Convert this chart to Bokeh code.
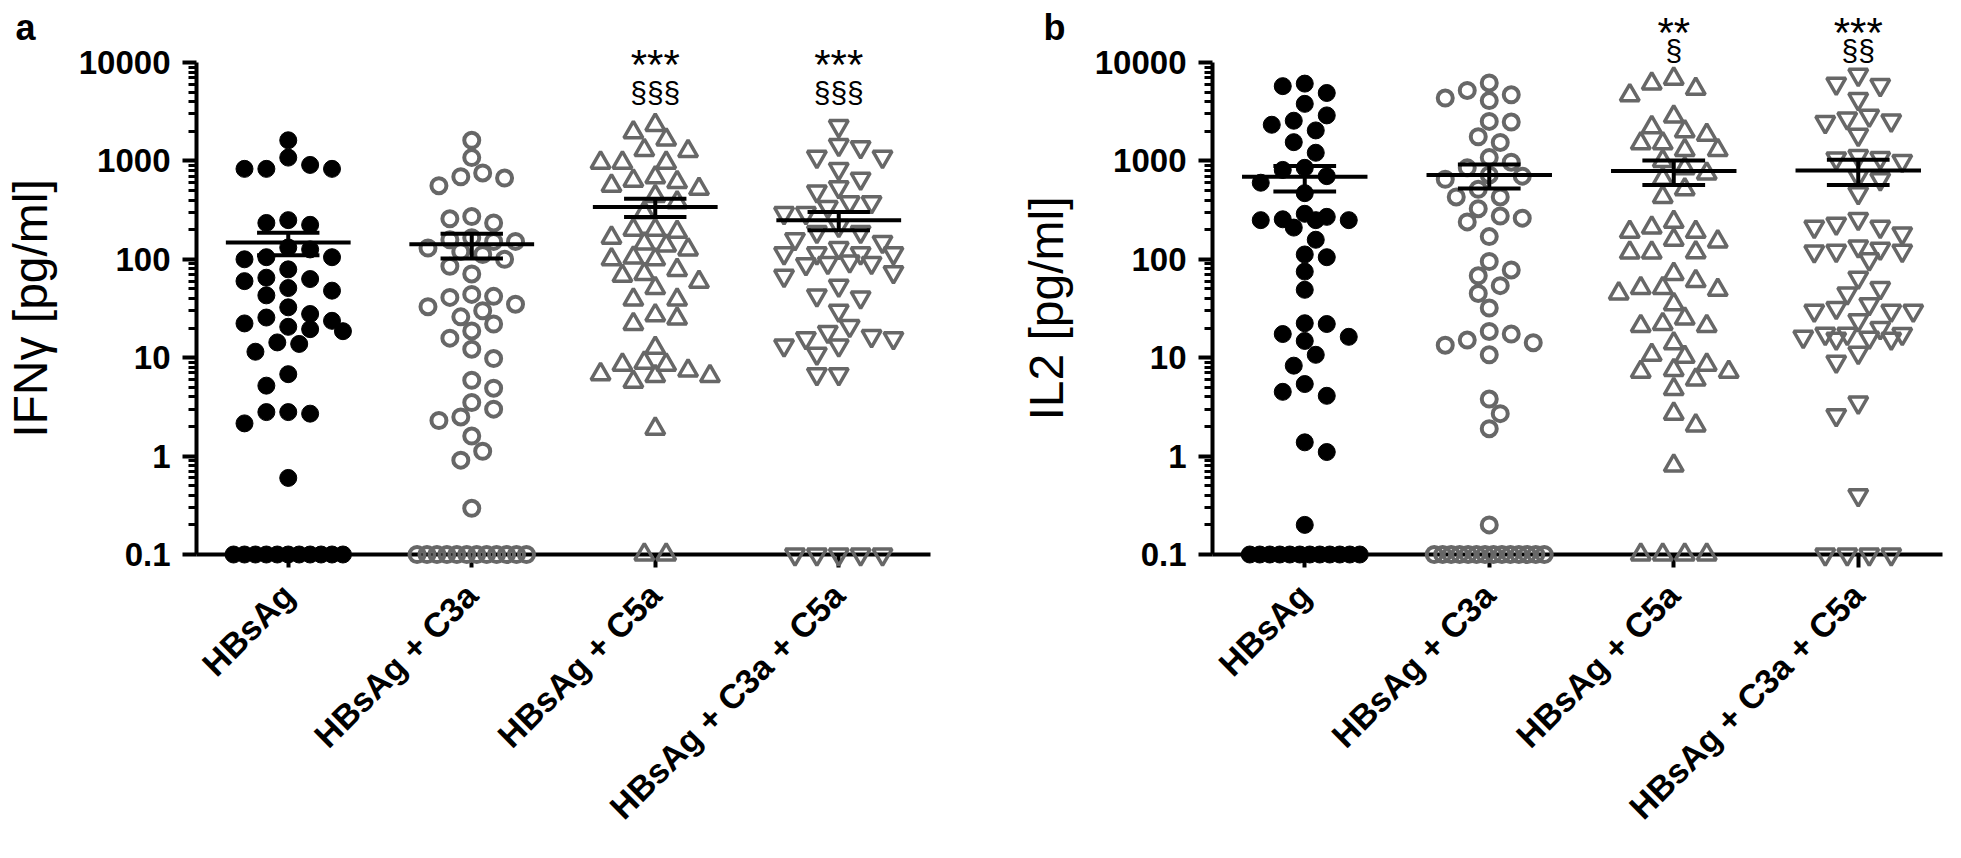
import math
import numpy as np
from bokeh.plotting import figure
from bokeh.layouts import row
from bokeh.models import Range1d, FixedTicker, CustomJSTickFormatter
from bokeh.core.properties import value
from bokeh.embed import file_html
from bokeh.resources import INLINE

# ---------------- data ----------------
categories = ["HBsAg", "HBsAg + C3a", "HBsAg + C5a", "HBsAg + C3a + C5a"]
ytick_values = [0.1, 1, 10, 100, 1000, 10000]
ytick_labels = ["0.1", "1", "10", "100", "1000", "10000"]

ifng_hbsag = [1620, 1080, 830, 830, 830, 910, 234, 250, 224, 126, 132, 105, 100, 105,
              79, 63, 65, 60, 51, 48, 43, 32.5, 27.8, 25.6, 23.7, 22.3, 20.6, 19.5, 18.6,
              14.3, 13.8, 11.5, 6.8, 5.2, 2.8, 2.7, 2.8, 2.15, 0.6,
              0.1, 0.1, 0.1, 0.1, 0.1, 0.1, 0.1, 0.1, 0.1, 0.1, 0.1]
ifng_c3a = [1620, 1080, 690, 755, 670, 560, 258, 234, 272, 166, 158, 152, 152, 130, 112,
            100, 120, 85, 71, 44, 41, 42, 33, 35, 26, 30, 22, 18.7, 15.8, 12.2, 9.8, 5.9,
            4.9, 3.5, 3.0, 2.5, 2.3, 1.6, 1.12, 0.91, 0.295,
            0.1, 0.1, 0.1, 0.1, 0.1, 0.1, 0.1, 0.1, 0.1, 0.1, 0.1, 0.1]
ifng_c5a = [2320, 1950, 1650, 1260, 1290, 960, 960, 960, 630, 560, 520, 610, 680, 440,
            380, 300, 200, 166, 190, 200, 145, 138, 126, 100, 100, 104, 78, 68, 59, 51,
            71, 39, 39, 27, 22, 25, 12.6, 8.5, 6.5, 7.4, 5.7, 8.5, 6.5, 8.9, 6.8, 1.9,
            0.1, 0.1]
ifng_c3a_c5a = [2260, 1380, 1100, 1450, 1100, 830, 660, 540, 490, 380, 340, 380, 295, 295,
                218, 190, 190, 160, 150, 130, 115, 115, 115, 115, 95, 92, 92, 89, 74, 68,
                54, 43, 41, 30, 21, 18.3, 16.6, 15.8, 15.8, 13.3, 13.3, 11.0, 6.8, 6.8,
                0.1, 0.1, 0.1, 0.1, 0.1]

il2_hbsag = [6100, 5750, 4900, 3800, 2900, 2560, 2330, 2040, 1550, 1210, 850, 810, 700,
             600, 470, 290, 270, 255, 250, 250, 250, 210, 158, 112, 105, 75, 49, 22.4, 22,
             17.4, 16.3, 14.8, 10.7, 8.3, 5.4, 4.5, 4.1, 1.38, 1.1, 0.2,
             0.1, 0.1, 0.1, 0.1, 0.1, 0.1, 0.1, 0.1, 0.1, 0.1, 0.1, 0.1]
il2_c3a = [6200, 5200, 4700, 4350, 4100, 2520, 2480, 1760, 1540, 1080, 970, 850, 720, 700,
           650, 515, 430, 430, 327, 275, 262, 240, 170, 95, 78, 68, 54, 45, 32, 18.5, 17.4,
           15.1, 14.2, 13.4, 10.7, 3.8, 2.7, 1.9, 0.2,
           0.1, 0.1, 0.1, 0.1, 0.1, 0.1, 0.1, 0.1, 0.1, 0.1, 0.1, 0.1, 0.1, 0.1]
il2_c5a = [6850, 6100, 5400, 4650, 2820, 2200, 2000, 1840, 1510, 1510, 1290, 1290, 1000,
           840, 745, 660, 515, 430, 240, 210, 190, 190, 158, 152, 118, 117, 117, 71, 60,
           51, 51, 49, 45, 35, 25, 22, 21, 21, 14, 10.7, 10.2, 8.5, 7.5, 7.2, 7.2, 6.0,
           4.8, 2.7, 2.05, 0.8,
           0.1, 0.1, 0.1, 0.1]
il2_c3a_c5a = [7500, 6100, 5900, 4250, 2880, 2700, 2570, 2480, 1840, 1120, 1070, 1060,
               1000, 700, 650, 470, 257, 230, 214, 214, 183, 135, 128, 122, 122, 120, 100,
               65, 51, 45, 35, 32, 30, 30, 30, 24, 20, 17.5, 17.5, 17.4, 16.3, 16, 15.6,
               15.6, 11.2, 9.1, 3.5, 2.6, 0.4,
               0.1, 0.1, 0.1, 0.1]

ifng_mean = [148, 142, 341, 250]
ifng_sem = [38, 40, 72, 53]
il2_mean = [690, 720, 790, 800]
il2_sem = [200, 197, 220, 230]

ifng_stars = ["", "", "***", "***"]
ifng_sect = ["", "", "§§§", "§§§"]
il2_stars = ["", "", "**", "***"]
il2_sect = ["", "", "§", "§§"]

# ---------------- style / layout ----------------
FONT = "Liberation Sans"
GRAY = "#676767"
PX_PER_CAT = 184.5
PX_PER_DEC = 98.4
FRAME_H = 492
TOP = 62
BOTTOM = 288


def swarm_offsets(values, floor=0.1, half_step=11.0, dmin=17.0, max_half=55.0, floor_half=55.0):
    v = np.asarray(values, dtype=float)
    y = np.log10(np.maximum(v, floor)) * PX_PER_DEC
    off = np.zeros(len(v))
    floor_idx = [i for i in range(len(v)) if v[i] <= floor]
    n0 = len(floor_idx)
    if n0 > 1:
        sp = min(2 * half_step, 2 * floor_half / (n0 - 1))
        for k, i in enumerate(floor_idx):
            off[i] = (k - (n0 - 1) / 2) * sp
    placed = list(floor_idx)
    rest = sorted([i for i in range(len(v)) if v[i] > floor], key=lambda i: -v[i])
    for n, i in enumerate(rest):
        side = 1 if n % 2 == 0 else -1
        cands = [0.0]
        k = 1
        while k * half_step <= max_half + 1e-9:
            cands += [side * k * half_step, -side * k * half_step]
            k += 1
        chosen, best, best_d = None, 0.0, -1.0
        for c in cands:
            d = min([math.hypot(c - off[j], y[i] - y[j]) for j in placed] or [1e9])
            if d >= dmin:
                chosen = c
                break
            if d > best_d:
                best_d, best = d, c
        off[i] = chosen if chosen is not None else best
        placed.append(i)
    return off / PX_PER_CAT


def y_from_top(px):
    # data value that lies px pixels above the frame top (negative = below)
    return 10 ** (4 + px / PX_PER_DEC)


def add_text(p, xs, dy_px, texts, size, bold=False, align="center"):
    p.text(x=list(xs), y=[y_from_top(dy_px)] * len(xs), text=list(texts),
           text_font=value(FONT), text_font_size=f"{size}px",
           text_font_style="bold" if bold else "normal",
           text_align=align, text_baseline="alphabetic", text_color="black",
           level="overlay")


def make_panel(groups, means, sems, ylabel, letter, stars, sects,
               star_dy, sect_dy, width, left, right, letter_dx):
    frame_w = width - left - right
    x_end = 0.5 + frame_w / PX_PER_CAT
    p = figure(width=width, height=TOP + FRAME_H + BOTTOM,
               x_range=Range1d(0.5, x_end), y_range=Range1d(0.1, 10000),
               y_axis_type="log", output_backend="svg", toolbar_location=None, title=None,
               min_border_left=left, min_border_right=right,
               min_border_top=TOP, min_border_bottom=BOTTOM)
    p.grid.visible = False
    p.outline_line_color = None
    p.background_fill_color = "white"
    p.border_fill_color = "white"

    xs = np.arange(1, len(categories) + 1, dtype=float)
    styles = [
        dict(marker="circle", size=17, fill_color="black", line_color="black", line_width=1),
        dict(marker="circle", size=15, fill_color=None, line_color=GRAY, line_width=4),
        dict(marker="triangle", size=19, fill_color=None, line_color=GRAY, line_width=3.5),
        dict(marker="inverted_triangle", size=19, fill_color=None, line_color=GRAY, line_width=3.5),
    ]
    for x0, vals, st in zip(xs, groups, styles):
        off = swarm_offsets(vals)
        p.scatter(x=list(x0 + off), y=vals, level="overlay", **st)

    m = np.array(means, dtype=float)
    s = np.array(sems, dtype=float)
    seg = dict(line_width=4, line_color="black", level="overlay", line_cap="butt")
    p.segment(x0=xs - 0.34, x1=xs + 0.34, y0=m, y1=m, **seg)
    p.segment(x0=xs, x1=xs, y0=m - s, y1=m + s, **seg)
    p.segment(x0=xs - 0.17, x1=xs + 0.17, y0=m + s, y1=m + s, **seg)
    p.segment(x0=xs - 0.17, x1=xs + 0.17, y0=m - s, y1=m - s, **seg)

    # y axis
    minor = [mnt * 10.0 ** e for e in range(-1, 4) for mnt in range(2, 10)]
    yax = p.yaxis[0]
    yax.ticker = FixedTicker(ticks=ytick_values, minor_ticks=minor)
    yax.formatter = CustomJSTickFormatter(
        args=dict(vals=ytick_values, labs=ytick_labels),
        code="for (let i = 0; i < vals.length; i++) { if (Math.abs(vals[i] - tick) <= 1e-9 * Math.max(1, Math.abs(tick))) return labs[i]; } return '';")
    yax.axis_label = ylabel
    yax.axis_label_text_font = FONT
    yax.axis_label_text_font_style = "normal"
    yax.axis_label_text_font_size = "48px"
    yax.axis_label_text_color = "black"
    yax.axis_label_standoff = 19
    yax.major_label_text_font = FONT
    yax.major_label_text_font_style = "bold"
    yax.major_label_text_font_size = "33px"
    yax.major_label_text_color = "black"
    yax.major_label_standoff = 12
    yax.axis_line_width = 4
    yax.axis_line_color = "black"
    yax.major_tick_line_width = 4
    yax.major_tick_line_color = "black"
    yax.minor_tick_line_width = 3
    yax.minor_tick_line_color = "black"
    yax.major_tick_in = 0
    yax.major_tick_out = 14
    yax.minor_tick_in = 0
    yax.minor_tick_out = 8

    # x axis
    xax = p.xaxis[0]
    xax.ticker = FixedTicker(ticks=list(xs))
    xax.formatter = CustomJSTickFormatter(
        args=dict(labs=categories),
        code="const i = Math.round(tick) - 1; return (i >= 0 && i < labs.length) ? labs[i] : '';")
    xax.major_label_orientation = math.pi / 4
    xax.major_label_text_font = FONT
    xax.major_label_text_font_style = "bold"
    xax.major_label_text_font_size = "34px"
    xax.major_label_text_color = "black"
    xax.major_label_standoff = 22
    xax.axis_line_width = 4
    xax.axis_line_color = "black"
    xax.major_tick_line_width = 4
    xax.major_tick_line_color = "black"
    xax.major_tick_in = 0
    xax.major_tick_out = 13
    xax.minor_tick_line_color = None

    # panel letter
    add_text(p, [0.5 + letter_dx / PX_PER_CAT], 35, [letter], 36, bold=True, align="left")
    # significance marks
    sx = [x for x, t in zip(xs, stars) if t]
    add_text(p, sx, star_dy, [t for t in stars if t], 42)
    cx = [x for x, t in zip(xs, sects) if t]
    add_text(p, cx, sect_dy, [t for t in sects if t], 30)
    return p


pa = make_panel([ifng_hbsag, ifng_c3a, ifng_c5a, ifng_c3a_c5a], ifng_mean, ifng_sem,
                "IFNγ [pg/ml]", "a", ifng_stars, ifng_sect,
                star_dy=-2, sect_dy=-30, width=992, left=192, right=62, letter_dx=-182)
pb = make_panel([il2_hbsag, il2_c3a, il2_c5a, il2_c3a_c5a], il2_mean, il2_sem,
                "IL2 [pg/ml]", "b", il2_stars, il2_sect,
                star_dy=30, sect_dy=12, width=953, left=220, right=3, letter_dx=-169)

layout = row(pa, pb)
open("out.html", "w").write(file_html(layout, INLINE))
